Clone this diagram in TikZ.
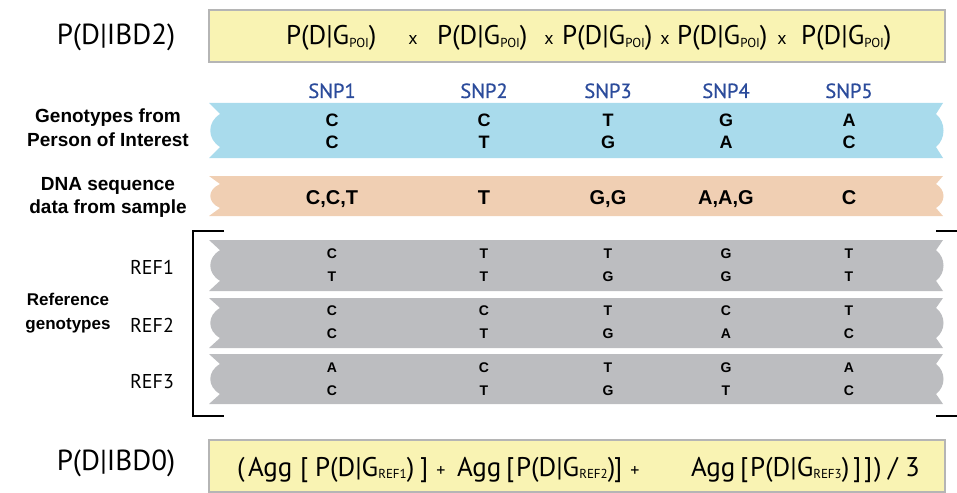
\documentclass[tikz,border=0pt]{standalone}
\usepackage{fontspec}
\setmainfont{Liberation Sans}
\newfontfamily\myr{PT Sans}
\newfontfamily\myrsb[FakeBold=0.5]{PT Sans}
\definecolor{boxyellow}{HTML}{F9F3B3}
\definecolor{boxborder}{HTML}{B5B5B5}
\definecolor{bandblue}{HTML}{A9DBEC}
\definecolor{bandorange}{HTML}{F0CFB3}
\definecolor{bandgrey}{HTML}{BCBDC0}
\definecolor{snpblue}{HTML}{2B4B9B}
\newcommand\subG[1]{G\raisebox{-2.5pt}{\fontsize{13}{13}\selectfont #1}}
\newcommand\band[5]{%
\fill[#5] (#1,#2) -- ({#1+11},{#2+0.2*(#4-#2)})
  .. controls ({#1-2},{#2+0.35*(#4-#2)}) and ({#1-2},{#2+0.65*(#4-#2)}) .. ({#1+11},{#2+0.8*(#4-#2)})
  -- (#1,#4) -- (#3,#4) -- ({#3-7},{#2+0.8*(#4-#2)})
  .. controls ({#3+3},{#2+0.65*(#4-#2)}) and ({#3+3},{#2+0.35*(#4-#2)}) .. ({#3-7},{#2+0.2*(#4-#2)})
  -- (#3,#2) -- cycle;}
\begin{document}
\begin{tikzpicture}[x=1pt,y=-1pt,
  every node/.style={inner sep=0pt, outer sep=0pt},
  lbl/.style={font=\bfseries\fontsize{19}{19}\selectfont, anchor=base},
  reflbl/.style={font=\bfseries\fontsize{17}{17}\selectfont, anchor=base},
  gt/.style={font=\bfseries\fontsize{18}{18}\selectfont, anchor=base},
  st/.style={font=\bfseries\fontsize{20}{20}\selectfont, anchor=base},
  reftxt/.style={font=\bfseries\fontsize{14}{14}\selectfont, anchor=base},
  snp/.style={font=\myrsb\fontsize{20.5}{20.5}\selectfont, text=snpblue, anchor=base},
  big/.style={font=\myr\fontsize{29}{29}\selectfont, anchor=base},
  reft/.style={font=\myr\fontsize{20}{20}\selectfont, anchor=base},
  fterm/.style={font=\myr\fontsize{27}{27}\selectfont, anchor=base west},
  fsym/.style={font=\myr\fontsize{18}{18}\selectfont, anchor=base},
  fbox/.style={fill=boxyellow, draw=boxborder, line width=2.5pt},
  brk/.style={line width=1.5pt, draw=black}
]
\useasboundingbox (0,0) rectangle (957,492);

% top formula
\draw[fbox] (209,10) rectangle (945,62);
\node[big] (ibd2) at (116,45) {P(D|IBD2)};
\node[fterm] (t1) at (286,45) {P(D|\subG{POI})};
\node[fsym]  (x1) at (413,45) {x};
\node[fterm] (t2) at (437,45) {P(D|\subG{POI})};
\node[fsym]  (x2) at (549,45) {x};
\node[fterm] (t3) at (562,45) {P(D|\subG{POI})};
\node[fsym]  (x3) at (665,45) {x};
\node[fterm] (t4) at (677,45) {P(D|\subG{POI})};
\node[fsym]  (x4) at (782,45) {x};
\node[fterm] (t5) at (801,45) {P(D|\subG{POI})};

% SNP header
\node[snp] (s1) at (332,98) {SNP1};
\node[snp] (s2) at (484,98) {SNP2};
\node[snp] (s3) at (608,98) {SNP3};
\node[snp] (s4) at (726,98) {SNP4};
\node[snp] (s5) at (849,98) {SNP5};

% bands
\band{209}{103}{943}{158}{bandblue}
\band{209}{176}{943}{216}{bandorange}
\band{209}{240}{943}{291}{bandgrey}
\band{209}{298}{943}{348}{bandgrey}
\band{209}{354}{943}{404}{bandgrey}

% left labels
\node[lbl] (g1) at (108,122) {Genotypes from};
\node[lbl] (g2) at (108,146) {Person of Interest};
\node[lbl] (d1) at (108,190) {DNA sequence};
\node[lbl] (d2) at (108,213) {data from sample};
\node[reflbl] (r1) at (68,305) {Reference};
\node[reflbl] (r2) at (68,329) {genotypes};
\node[reft] (ref1) at (152,274) {REF1};
\node[reft] (ref2) at (152,332) {REF2};
\node[reft] (ref3) at (152,388) {REF3};

% person of interest genotypes
\node[gt] (p1a) at (332,126) {C}; \node[gt] (p1b) at (332,148) {C};
\node[gt] (p2a) at (484,126) {C}; \node[gt] (p2b) at (484,148) {T};
\node[gt] (p3a) at (608,126) {T}; \node[gt] (p3b) at (608,148) {G};
\node[gt] (p4a) at (726,126) {G}; \node[gt] (p4b) at (726,148) {A};
\node[gt] (p5a) at (849,126) {A}; \node[gt] (p5b) at (849,148) {C};

% sample data
\node[st] (q1) at (332,204) {C,C,T};
\node[st] (q2) at (484,204) {T};
\node[st] (q3) at (608,204) {G,G};
\node[st] (q4) at (726,204) {A,A,G};
\node[st] (q5) at (849,204) {C};

% REF1
\node[reftxt] (a1a) at (332,258) {C}; \node[reftxt] (a1b) at (332,281) {T};
\node[reftxt] (a2a) at (484,258) {T}; \node[reftxt] (a2b) at (484,281) {T};
\node[reftxt] (a3a) at (608,258) {T}; \node[reftxt] (a3b) at (608,281) {G};
\node[reftxt] (a4a) at (726,258) {G}; \node[reftxt] (a4b) at (726,281) {G};
\node[reftxt] (a5a) at (849,258) {T}; \node[reftxt] (a5b) at (849,281) {T};
% REF2
\node[reftxt] (b1a) at (332,315) {C}; \node[reftxt] (b1b) at (332,338) {C};
\node[reftxt] (b2a) at (484,315) {C}; \node[reftxt] (b2b) at (484,338) {T};
\node[reftxt] (b3a) at (608,315) {T}; \node[reftxt] (b3b) at (608,338) {G};
\node[reftxt] (b4a) at (726,315) {C}; \node[reftxt] (b4b) at (726,338) {A};
\node[reftxt] (b5a) at (849,315) {T}; \node[reftxt] (b5b) at (849,338) {C};
% REF3
\node[reftxt] (c1a) at (332,372) {A}; \node[reftxt] (c1b) at (332,395) {C};
\node[reftxt] (c2a) at (484,372) {C}; \node[reftxt] (c2b) at (484,395) {T};
\node[reftxt] (c3a) at (608,372) {T}; \node[reftxt] (c3b) at (608,395) {G};
\node[reftxt] (c4a) at (726,372) {G}; \node[reftxt] (c4b) at (726,395) {T};
\node[reftxt] (c5a) at (849,372) {A}; \node[reftxt] (c5b) at (849,395) {C};

% brackets
\coordinate (bl1) at (224,231); \coordinate (bl2) at (193,231);
\coordinate (bl3) at (193,416); \coordinate (bl4) at (224,416);
\draw[brk] (bl1) -- (bl2) -- (bl3) -- (bl4);
\coordinate (br1) at (936,231); \coordinate (br2) at (957,231);
\coordinate (br3) at (936,416); \coordinate (br4) at (957,416);
\draw[brk] (br1) -- (br2);
\draw[brk] (br3) -- (br4);

% bottom formula
\draw[fbox] (209,440) rectangle (945,492);
\node[big] (ibd0) at (116,470) {P(D|IBD0)};
\node[fterm] (o1) at (237,476) {(};
\node[fterm] (agg1) at (248,476) {Agg};
\node[fterm] (lb1) at (300,476) {[};
\node[fterm] (e1) at (315,476) {P(D|\subG{REF1})};
\node[fterm] (rb1) at (420,476) {]};
\node[fsym] (pl1) at (441,476) {+};
\node[fterm] (agg2) at (457,476) {Agg};
\node[fterm] (lb2) at (506,476) {[};
\node[fterm] (e2) at (516,476) {P(D|\subG{REF2})};
\node[fterm] (rb2) at (614,476) {]};
\node[fsym] (pl2) at (635,476) {+};
\node[fterm] (agg3) at (691,476) {Agg};
\node[fterm] (lb3) at (740,476) {[};
\node[fterm] (e3) at (750,476) {P(D|\subG{REF3})};
\node[fterm] (rb3) at (853,476) {]};
\node[fterm] (rb4) at (864,476) {]};
\node[fterm] (o2) at (874,476) {)};
\node[fterm] (sl) at (888,476) {/};
\node[fterm] (three) at (905,476) {3};
\end{tikzpicture}
\end{document}
